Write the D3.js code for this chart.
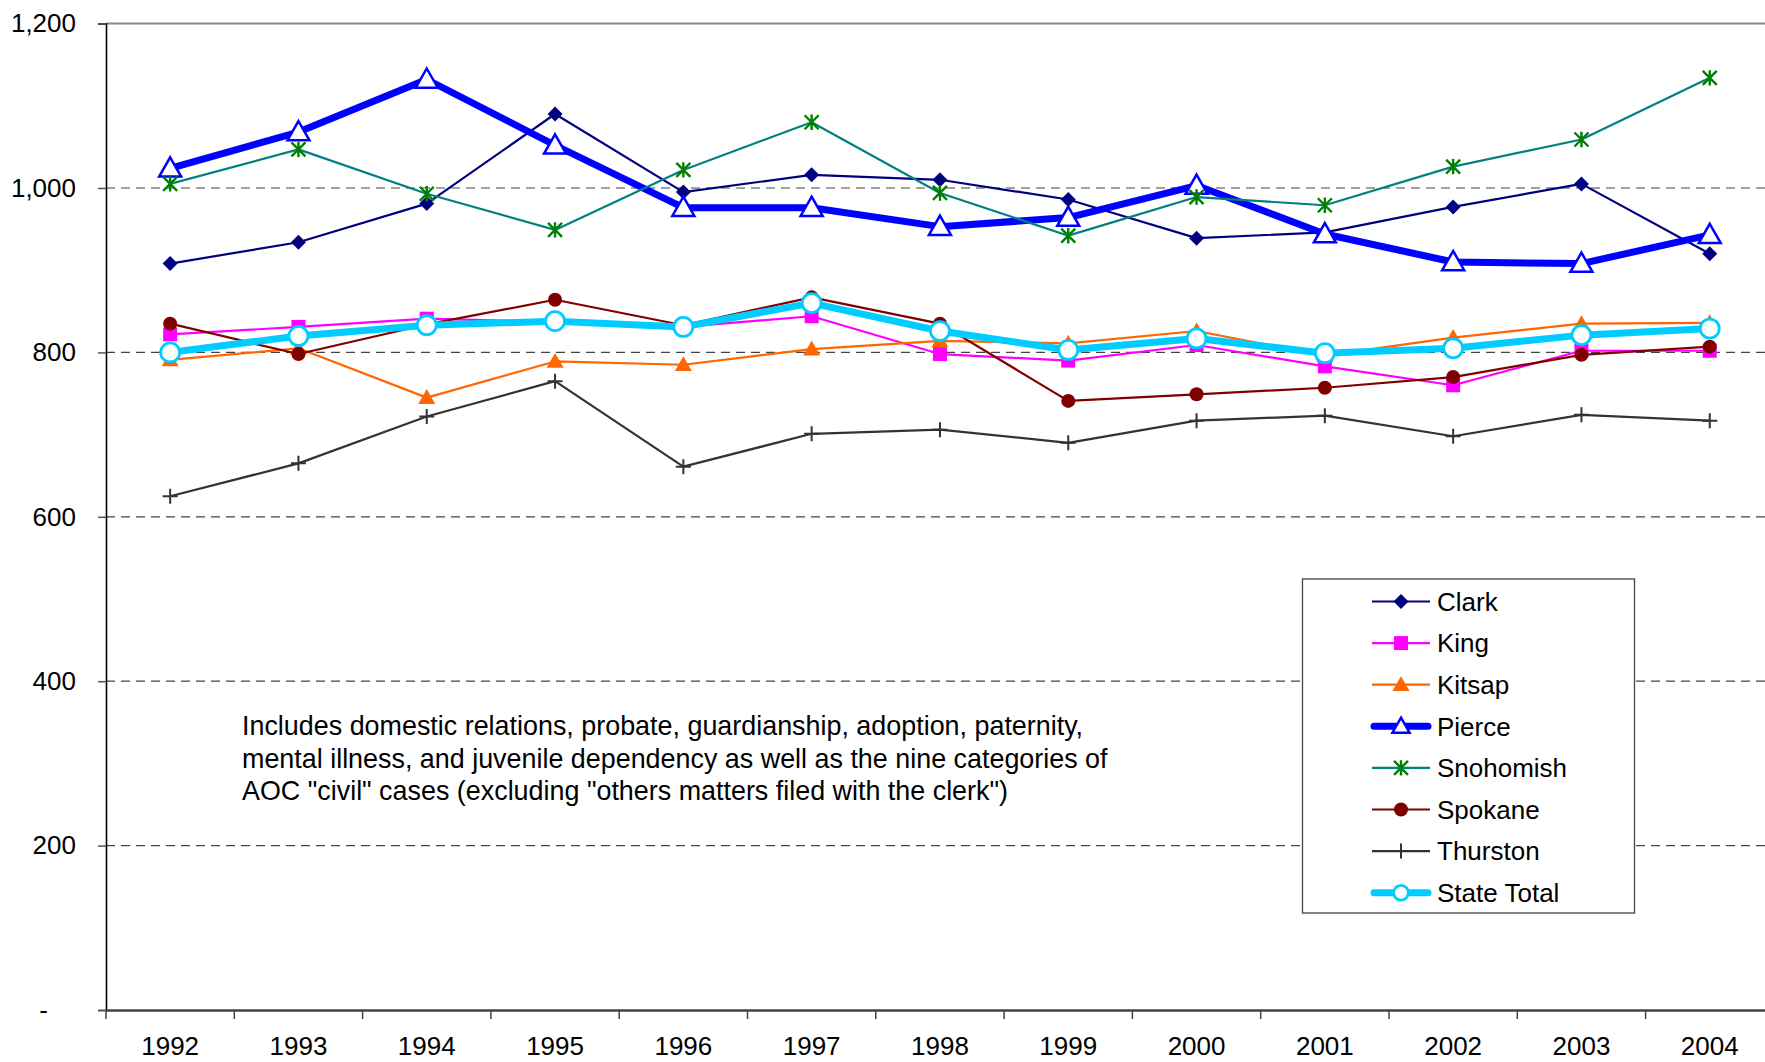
<!DOCTYPE html>
<html><head><meta charset="utf-8">
<script src="https://cdn.jsdelivr.net/npm/d3@7/dist/d3.min.js"></script>
<style>
body{margin:0;background:#fff;overflow:hidden;}
svg{display:block;font-family:"Liberation Sans",Arial,sans-serif;}
</style>
</head><body>
<svg id="chart" width="1765" height="1062"></svg>
<script>
// ---- data ----
const years = ["1992","1993","1994","1995","1996","1997","1998","1999","2000","2001","2002","2003","2004"];
const clark     = [908, 934, 981, 1090, 995, 1016, 1010, 986, 939, 946, 977, 1005, 920];
const king      = [822, 831, 841, 837, 831, 844, 798, 790, 809, 783, 760, 802, 802];
const kitsap    = [791, 805, 745, 789, 785, 804, 814, 811, 826, 796, 818, 835, 836];
const pierce    = [1024, 1068, 1132, 1052, 976, 976, 953, 964, 1003, 944, 910, 908, 943];
const snohomish = [1005, 1047, 993, 949, 1022, 1080, 994, 942, 989, 979, 1026, 1059, 1134];
const spokane   = [835, 798, 834, 864, 833, 867, 835, 741, 749, 757, 770, 797, 807];
const thurston  = [625, 665, 722, 765, 661, 701, 706, 690, 717, 723, 698, 724, 717];
const stateTotal= [800, 820, 833, 838, 831, 860, 826, 803, 817, 799, 805, 821, 829];
const seriesNames = ["Clark","King","Kitsap","Pierce","Snohomish","Spokane","Thurston","State Total"];
const seriesValues = [clark, king, kitsap, pierce, snohomish, spokane, thurston, stateTotal];
const yTicks = [0, 200, 400, 600, 800, 1000, 1200];
const yTickLabels = ["-", "200", "400", "600", "800", "1,000", "1,200"];
const noteLines = [
  "Includes domestic relations, probate, guardianship, adoption, paternity,",
  "mental illness, and juvenile dependency as well as the nine categories of",
  "AOC \"civil\" cases (excluding \"others matters filed with the clerk\")"
];

// ---- styles ----
const styles = [
  {line:"#000080", width:2.2, marker:"diamond",  fill:"#000080", stroke:"none", size:7.5},
  {line:"#FF00FF", width:2.2, marker:"square",   fill:"#FF00FF", stroke:"none", size:7},
  {line:"#FF6600", width:2.2, marker:"triangle", fill:"#FF6600", stroke:"none", size:8.5},
  {line:"#0000FF", width:7,   marker:"triangle", fill:"#FFFFFF", stroke:"#0000FF", sw:2.5, size:11},
  {line:"#008080", width:2.2, marker:"asterisk", fill:"none",    stroke:"#008000", sw:2.4, size:7},
  {line:"#800000", width:2.2, marker:"circle",   fill:"#800000", stroke:"none", size:7},
  {line:"#333333", width:2.2, marker:"plus",     fill:"none",    stroke:"#333333", sw:2, size:7.5},
  {line:"#00CCFF", width:7,   marker:"circle",   fill:"#FFFFFF", stroke:"#00CCFF", sw:2.8, size:9.5}
];

function markerPath(type, s){
  switch(type){
    case "diamond": return `M0,${-s}L${s},0L0,${s}L${-s},0Z`;
    case "square": return `M${-s},${-s}H${s}V${s}H${-s}Z`;
    case "triangle": return `M0,${-s}L${s*1.0},${s*0.75}L${-s*1.0},${s*0.75}Z`;
    case "circle": return `M${s},0A${s},${s} 0 1,1 ${-s},0A${s},${s} 0 1,1 ${s},0Z`;
    case "asterisk": return `M${-s},${-s}L${s},${s}M${s},${-s}L${-s},${s}M0,${-s*1.1}V${s*1.1}`;
    case "plus": return `M${-s},0H${s}M0,${-s}V${s}`;
  }
}

const svg = d3.select("#chart");
const mLeft = 106, mTop = 23.6, mBottom = 1010, catW = 128.3;
const mRight = mLeft + catW * years.length;

const x = d3.scaleBand().domain(years).range([mLeft, mRight]).padding(0);
const y = d3.scaleLinear().domain([0, 1200]).range([mBottom, mTop]);
const cx = d => x(d) + x.bandwidth()/2;

// gridlines
svg.append("g").selectAll("line").data(yTicks.filter(v => v > 0 && v < 1200)).join("line")
  .attr("x1", mLeft).attr("x2", mRight).attr("y1", d => y(d)).attr("y2", d => y(d))
  .attr("stroke", "#444").attr("stroke-width", 1.2).attr("stroke-dasharray", "9,6");
// top border
svg.append("line").attr("x1", mLeft).attr("x2", mRight).attr("y1", y(1200)).attr("y2", y(1200))
  .attr("stroke", "#888").attr("stroke-width", 2);

// y axis
const yAxis = d3.axisLeft(y).tickValues(yTicks).tickSize(8).tickPadding(22)
  .tickFormat((d, i) => yTickLabels[i]);
const gy = svg.append("g").attr("transform", `translate(${mLeft},0)`).call(yAxis);
gy.select(".domain").attr("stroke", "#000").attr("stroke-width", 1.6);
gy.selectAll(".tick line").attr("stroke", "#555").attr("stroke-width", 1.5);
gy.selectAll(".tick text").attr("font-size", 26).attr("fill", "#000")
  .attr("font-family", "'Liberation Sans',Arial,sans-serif");
gy.selectAll(".tick").filter(d => d === 0).select("text").attr("dx", -28);

// x axis
const xAxis = d3.axisBottom(x).tickSize(0).tickPadding(27);
const gx = svg.append("g").attr("transform", `translate(0,${mBottom})`).call(xAxis);
gx.select(".domain").attr("stroke", "#444").attr("stroke-width", 2.5);
gx.selectAll(".tick text").attr("font-size", 26).attr("fill", "#000")
  .attr("font-family", "'Liberation Sans',Arial,sans-serif");
// category boundary ticks
svg.append("g").selectAll("line").data(years).join("line")
  .attr("x1", d => x(d)).attr("x2", d => x(d))
  .attr("y1", mBottom).attr("y2", mBottom + 9)
  .attr("stroke", "#444").attr("stroke-width", 1.5);

// series
const lineGen = d3.line().x((d, i) => cx(years[i])).y(d => y(d));
seriesValues.forEach((vals, si) => {
  const st = styles[si];
  const g = svg.append("g");
  g.append("path").datum(vals).attr("d", lineGen)
    .attr("fill", "none").attr("stroke", st.line).attr("stroke-width", st.width)
    .attr("stroke-linejoin", "round");
  g.selectAll("path.m").data(vals).join("path").attr("class", "m")
    .attr("transform", (d, i) => `translate(${cx(years[i])},${y(d)})`)
    .attr("d", markerPath(st.marker, st.size))
    .attr("fill", st.fill).attr("stroke", st.stroke).attr("stroke-width", st.sw || 0);
});

// note text
const note = svg.append("text").attr("x", 242).attr("font-size", 26.9).attr("fill", "#000");
noteLines.forEach((t, i) => {
  note.append("tspan").attr("x", 242).attr("y", 735 + i * 32.6).text(t);
});

// legend
const lg = svg.append("g");
lg.append("rect").attr("x", 1302.5).attr("y", 579).attr("width", 332).attr("height", 334)
  .attr("fill", "#fff").attr("stroke", "#444").attr("stroke-width", 1.3);
seriesNames.forEach((name, i) => {
  const st = styles[i];
  const yy = 601.5 + i * 41.6;
  const thick = st.width > 4;
  lg.append("line").attr("x1", thick ? 1374 : 1372).attr("x2", thick ? 1428 : 1430)
    .attr("y1", yy).attr("y2", yy).attr("stroke", st.line).attr("stroke-width", st.width)
    .attr("stroke-linecap", thick ? "round" : "butt");
  const ms = thick ? st.size * 0.78 : st.size;
  lg.append("path").attr("transform", `translate(1401,${yy})`)
    .attr("d", markerPath(st.marker, ms))
    .attr("fill", st.fill).attr("stroke", st.stroke).attr("stroke-width", st.sw || 0);
  lg.append("text").attr("x", 1437).attr("y", yy).attr("dy", "0.36em")
    .attr("font-size", 26).attr("fill", "#000").text(name);
});
</script>
</body></html>
